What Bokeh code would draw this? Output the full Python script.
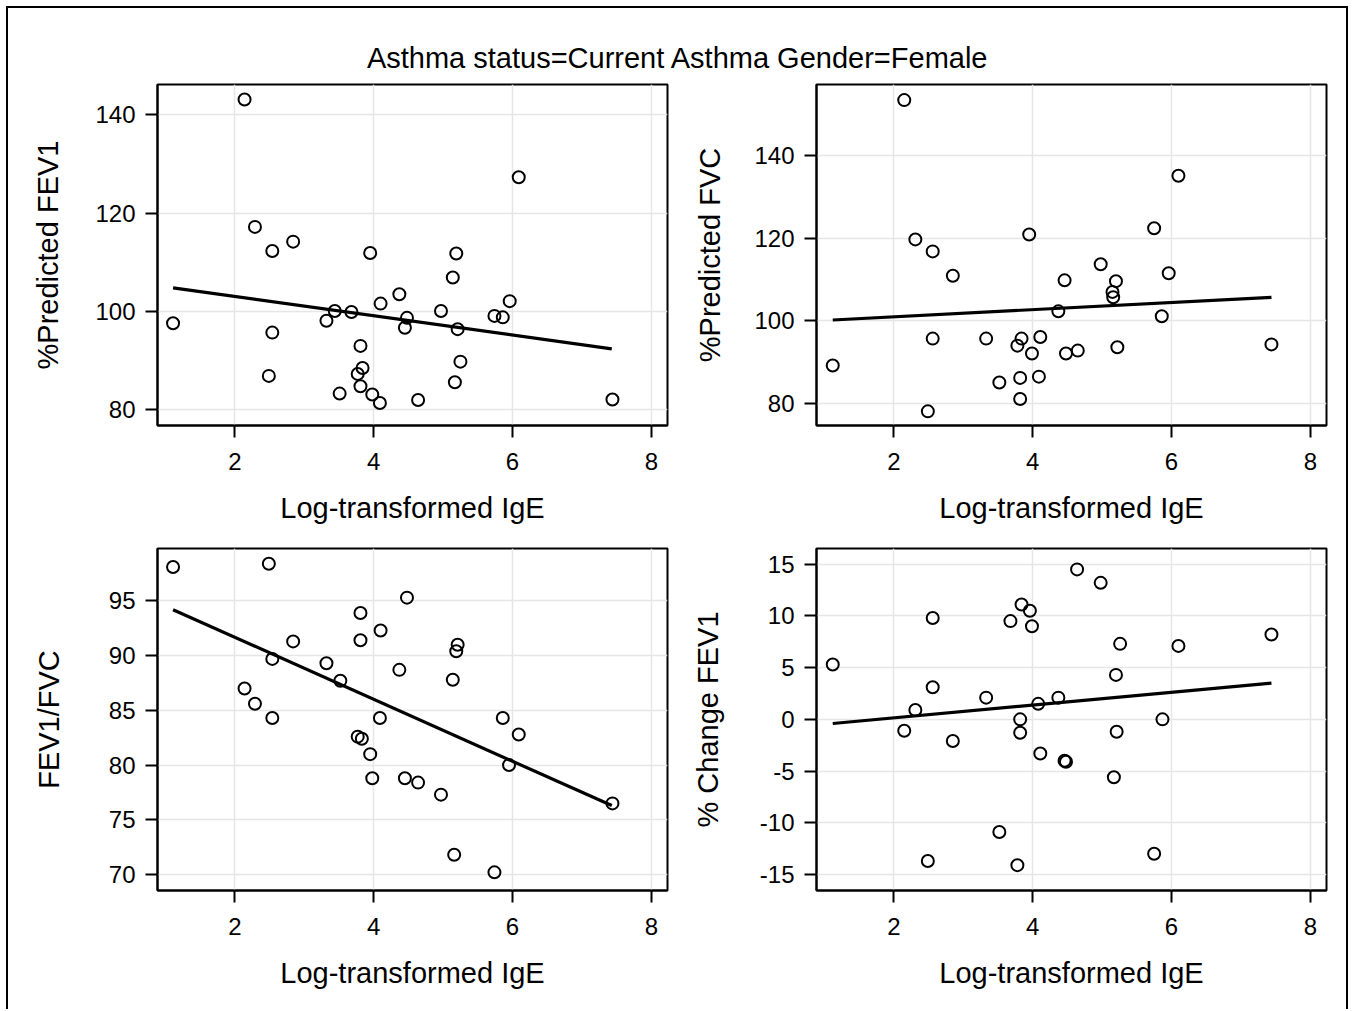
from bokeh.plotting import figure
from bokeh.layouts import column, row
from bokeh.models import Range1d, FixedTicker, Label
from bokeh.embed import file_html
from bokeh.resources import INLINE

# ---------------- data ----------------
title_text = "Asthma status=Current Asthma Gender=Female"
x_label = "Log-transformed IgE"
x_ticks = [2, 4, 6, 8]

# %Predicted FEV1
x1 = [1.11, 2.14, 2.29, 2.54, 2.84, 2.54, 2.49, 3.32, 3.44, 3.68, 3.51, 3.81, 3.84, 3.77, 3.81, 3.95, 3.98,
      4.09, 4.10, 4.37, 4.48, 4.45, 4.64, 4.97, 5.19, 5.14, 5.21, 5.25, 5.17, 5.74, 5.86, 5.96, 6.09, 7.44]
y1 = [97.6, 143.1, 117.2, 112.3, 114.2, 95.7, 86.9, 98.1, 100.1, 99.9, 83.3, 93.0, 88.5, 87.3, 84.8, 111.9, 83.1,
      81.4, 101.6, 103.5, 98.7, 96.7, 82.0, 100.1, 111.8, 106.9, 96.4, 89.8, 85.6, 99.1, 98.8, 102.1, 127.3, 82.1]
fit_x1 = [1.11, 7.43]
fit_y1 = [104.8, 92.4]
y1_label = "%Predicted FEV1"
y1_ticks = [80, 100, 120, 140]

# %Predicted FVC
x2 = [1.12, 2.15, 2.31, 2.56, 2.85, 2.56, 2.49, 3.33, 3.52, 3.84, 3.78, 3.82, 3.82, 3.95, 3.99, 4.11,
      4.09, 4.37, 4.46, 4.48, 4.65, 4.98, 5.20, 5.15, 5.16, 5.22, 5.75, 5.86, 5.96, 6.10, 7.44]
y2 = [89.2, 153.4, 119.7, 116.8, 110.9, 95.7, 78.1, 95.7, 85.1, 95.7, 94.0, 86.2, 81.1, 120.9, 92.1, 96.1,
      86.5, 102.3, 109.8, 92.1, 92.8, 113.7, 109.6, 107.0, 105.7, 93.6, 122.4, 101.1, 111.5, 135.1, 94.3]
fit_x2 = [1.12, 7.44]
fit_y2 = [100.2, 105.7]
y2_label = "%Predicted FVC"
y2_ticks = [80, 100, 120, 140]

# FEV1/FVC
x3 = [1.11, 2.49, 2.14, 2.29, 2.54, 2.54, 2.84, 3.32, 3.52, 3.81, 3.81, 3.77, 3.83, 3.95, 3.98, 4.10,
      4.09, 4.37, 4.48, 4.45, 4.64, 4.97, 5.21, 5.19, 5.14, 5.16, 5.74, 5.86, 6.09, 5.95, 7.44]
y3 = [98.1, 98.4, 87.0, 85.6, 84.3, 89.7, 91.3, 89.3, 87.7, 93.9, 91.4, 82.6, 82.4, 81.0, 78.8, 92.3,
      84.3, 88.7, 95.3, 78.8, 78.4, 77.3, 91.0, 90.4, 87.8, 71.8, 70.2, 84.3, 82.8, 80.0, 76.5]
fit_x3 = [1.11, 7.43]
fit_y3 = [94.2, 76.3]
y3_label = "FEV1/FVC"
y3_ticks = [70, 75, 80, 85, 90, 95]

# % Change FEV1
x4 = [1.12, 2.15, 2.31, 2.56, 2.56, 2.49, 2.85, 3.33, 3.52, 3.68, 3.84, 3.96, 3.99, 3.82, 3.82, 3.78,
      4.08, 4.11, 4.37, 4.46, 4.48, 4.64, 4.98, 5.26, 5.20, 5.21, 5.17, 5.75, 5.87, 6.10, 7.44]
y4 = [5.3, -1.1, 0.9, 9.8, 3.1, -13.7, -2.1, 2.1, -10.9, 9.5, 11.1, 10.5, 9.0, 0.0, -1.3, -14.1,
      1.5, -3.3, 2.1, -4.0, -4.1, 14.5, 13.2, 7.3, 4.3, -1.2, -5.6, -13.0, 0.0, 7.1, 8.2]
fit_x4 = [1.12, 7.44]
fit_y4 = [-0.4, 3.5]
y4_label = "% Change FEV1"
y4_ticks = [-15, -10, -5, 0, 5, 10, 15]

# ---------------- styling ----------------
FONT = "Liberation Sans"
X_RANGE = (0.886, 8.233)
GRID = "#e6e6e6"


def panel(xs, ys, fx, fy, ylab, yrng, yticks, width, height, mbl, mbr, mbt, mbb, ystand):
    p = figure(width=width, height=height, output_backend="svg", toolbar_location=None,
               x_range=Range1d(*X_RANGE), y_range=Range1d(*yrng),
               min_border_left=mbl, min_border_right=mbr, min_border_top=mbt, min_border_bottom=mbb)
    p.outline_line_color = "black"
    p.outline_line_width = 2
    p.xgrid.ticker = FixedTicker(ticks=x_ticks)
    p.ygrid.ticker = FixedTicker(ticks=yticks)
    p.xaxis.ticker = FixedTicker(ticks=x_ticks)
    p.yaxis.ticker = FixedTicker(ticks=yticks)
    p.yaxis.major_label_overrides = {v: str(v) for v in yticks}
    p.grid.grid_line_color = GRID
    p.grid.grid_line_width = 1.5
    for ax in (p.xaxis[0], p.yaxis[0]):
        ax.axis_line_color = "black"
        ax.axis_line_width = 2
        ax.major_tick_out = 12
        ax.major_tick_in = 0
        ax.major_tick_line_width = 2
        ax.minor_tick_line_color = None
        ax.major_label_text_font = FONT
        ax.major_label_text_font_size = "24px"
        ax.major_label_text_color = "black"
        ax.axis_label_text_font = FONT
        ax.axis_label_text_font_size = "29px"
        ax.axis_label_text_font_style = "normal"
        ax.axis_label_text_color = "black"
    p.xaxis.major_label_standoff = 15
    p.yaxis.major_label_standoff = 10
    p.xaxis.axis_label = x_label
    p.xaxis.axis_label_standoff = 19
    p.yaxis.axis_label = ylab
    p.yaxis.axis_label_standoff = ystand
    p.line(fx, fy, line_color="black", line_width=3.2)
    p.scatter(xs, ys, marker="circle", size=12, fill_color=None, line_color="black", line_width=2)
    return p


W_L, W_R = 672, 666
H_T, H_B = 457, 476
p1 = panel(x1, y1, fit_x1, fit_y1, y1_label, (76.81, 146.16), y1_ticks, W_L, H_T, 149, 13, 8, 108, 28)
p2 = panel(x2, y2, fit_x2, fit_y2, y2_label, (74.68, 157.18), y2_ticks, W_R, H_T, 136, 20, 8, 108, 25)
p3 = panel(x3, y3, fit_x3, fit_y3, y3_label, (68.54, 99.79), y3_ticks, W_L, H_B, 149, 13, 15, 119, 41)
p4 = panel(x4, y4, fit_x4, fit_y4, y4_label, (-16.55, 16.52), y4_ticks, W_R, H_B, 136, 20, 15, 119, 33)

t = figure(width=W_L + W_R, height=68, output_backend="svg", toolbar_location=None,
           x_range=Range1d(0, 1), y_range=Range1d(0, 1),
           x_axis_location=None, y_axis_location=None, min_border=0)
t.outline_line_color = None
t.grid.visible = False
t.add_layout(Label(x=669.5, y=19, x_units="screen", y_units="screen", text=title_text,
                   text_align="center", text_baseline="middle",
                   text_font=FONT, text_font_size="29px", text_color="black"))

layout = column(t, row(p1, p2), row(p3, p4),
                styles={"border-top": "2px solid black", "border-left": "2px solid black",
                        "border-right": "2px solid black", "margin-left": "6px", "margin-top": "6px"})

open("out.html", "w").write(file_html(layout, INLINE))
